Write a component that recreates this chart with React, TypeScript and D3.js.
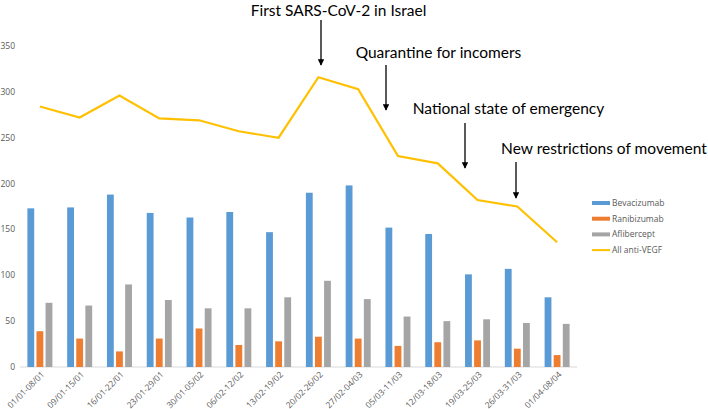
import React from "react";
import * as d3 from "d3";

const categories = ["01/01-08/01","09/01-15/01","16/01-22/01","23/01-29/01","30/01-05/02","06/02-12/02","13/02-19/02","20/02-26/02","27/02-04/03","05/03-11/03","12/03-18/03","19/03-25/03","26/03-31/03","01/04-08/04"];
const bevacizumab = [173,174,188,168,163,169,147,190,198,152,145,101,107,76];
const ranibizumab = [39,31,17,31,42,24,28,33,31,23,27,29,20,13];
const aflibercept = [70,67,90,73,64,64,76,94,74,55,50,52,48,47];
const allAntiVEGF = [284,272,296,271,269,257,250,316,303,230,222,182,175,136];
const yTicks = [0,50,100,150,200,250,300,350];
const seriesNames = ["Bevacizumab","Ranibizumab","Aflibercept","All anti-VEGF"];
const colors = ["#5B9BD5","#ED7D31","#A5A5A5","#FFC000"];
const annotations = [
  { text: "First SARS-CoV-2 in Israel", idx: 7 },
  { text: "Quarantine for incomers", idx: 8 },
  { text: "National state of emergency", idx: 11 },
  { text: "New restrictions of movement", idx: 12 },
];

export default function App() {
  const W = 708, H = 409;
  const x0 = 20, x1 = 577, yBase = 367;
  const x = d3.scaleBand<string>().domain(categories).range([x0, x1]);
  const y = d3.scaleLinear().domain([0, 350]).range([yBase, 46]);
  const inner = d3.scaleBand<number>().domain([0, 1, 2]).range([-12.5, 12.5]).paddingInner(0.25);
  const bars = [bevacizumab, ranibizumab, aflibercept];
  const cx = (c: string) => (x(c) as number) + x.bandwidth() / 2;
  const line = d3.line<number>().x((_, i) => cx(categories[i])).y((d) => y(d));
  const annLayout = [
    { tx: 338.5, ty: 16, ax: 321, a0: 20, a1: 65 },
    { tx: 438.5, ty: 58, ax: 386, a0: 65, a1: 110 },
    { tx: 508.5, ty: 114, ax: 465, a0: 123, a1: 168 },
    { tx: 604, ty: 154, ax: 516, a0: 162, a1: 198 },
  ];
  return (
    <svg width={W} height={H} style={{ position: "absolute", left: 0, top: 0, background: "#fff" }}>
      <defs>
        <marker id="arr" viewBox="0 0 10 10" refX="9" refY="5" markerWidth="5" markerHeight="5" orient="auto">
          <path d="M0,0 L10,5 L0,10 z" fill="#000" />
        </marker>
      </defs>
      {yTicks.map((t) => (
        <text key={t} x={15} y={y(t)} dy="0.35em" textAnchor="end" fontSize={8.5} fill="#595959" fontFamily="Open Sans, sans-serif">{t}</text>
      ))}
      <line x1={x0} x2={x1} y1={yBase} y2={yBase} stroke="#d9d9d9" strokeWidth={1} />
      {bars.map((s, si) =>
        s.map((v, i) => (
          <rect key={si + "-" + i} x={cx(categories[i]) + (inner(si) as number)} width={inner.bandwidth()} y={y(v)} height={yBase - y(v)} fill={colors[si]} />
        ))
      )}
      <path d={line(allAntiVEGF) || ""} fill="none" stroke={colors[3]} strokeWidth={2.2} />
      {categories.map((c) => (
        <text key={c} transform={`translate(${cx(c) + 5},${yBase + 8}) rotate(-45)`} textAnchor="end" fontSize={8.5} fill="#595959" fontFamily="Open Sans, sans-serif">{c}</text>
      ))}
      {seriesNames.map((n, i) => (
        <g key={n} transform={`translate(592,${203 + i * 15.7})`}>
          <line x1={0} x2={18} y1={0} y2={0} stroke={colors[i]} strokeWidth={i === 3 ? 2 : 4} />
          <text x={20} y={0} dy="0.35em" fontSize={8.5} fill="#595959" fontFamily="Open Sans, sans-serif">{n}</text>
        </g>
      ))}
      {annotations.map((a, i) => {
        const L = annLayout[i];
        return (
          <g key={a.text}>
            <text x={L.tx} y={L.ty} textAnchor="middle" fontSize={15.5} fill="#000" fontFamily="Lato, sans-serif">{a.text}</text>
            <line x1={L.ax} x2={L.ax} y1={L.a0} y2={L.a1} stroke="#000" strokeWidth={1.3} markerEnd="url(#arr)" />
          </g>
        );
      })}
    </svg>
  );
}
